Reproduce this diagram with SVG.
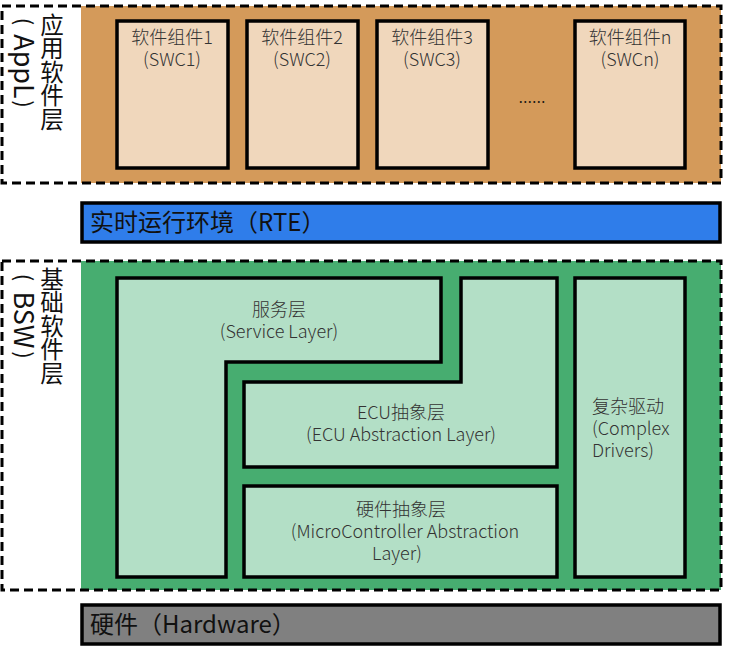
<svg xmlns="http://www.w3.org/2000/svg" width="731" height="651" viewBox="0 0 731 651">
<style>
  .t { font-family: "Noto Sans CJK SC", "Noto Sans", sans-serif; fill: #333; font-size: 18px; font-weight: 300; }
  .big { font-family: "Noto Sans CJK SC", "Noto Sans", sans-serif; fill: #111; font-size: 24px; }
  .vert { font-family: "Noto Sans CJK SC", "Noto Sans", sans-serif; fill: #111; font-size: 23.5px; writing-mode: vertical-rl; }
  .rot { font-family: "Noto Sans CJK SC", "Noto Sans", sans-serif; fill: #111; font-size: 27px; text-anchor: middle; }
  .par { font-family: "Noto Sans CJK SC", "Noto Sans", sans-serif; fill: #111; font-size: 22px; text-anchor: middle; }
  .dash { fill: none; stroke: #000; stroke-width: 3; stroke-dasharray: 9 5; }
  .box { stroke: #000; stroke-width: 3.5; }
  .swc { fill: #F0D7BC; }
  .lg { fill: #B3DFC6; }
  .c { text-anchor: middle; }
</style>
<rect width="731" height="651" fill="#fff"/>

<g id="appl-layer">
  <rect x="81" y="6" width="640" height="177" fill="#D49A5A"/>
  <rect class="dash" x="2" y="6" width="719" height="177"/>
  <text class="vert" x="52" y="13">应用软件层</text>
  <text class="par" transform="translate(16,0) rotate(90)" x="21.5" y="0">(</text>
  <text class="rot" transform="translate(14,0) rotate(90)" x="66.5" y="0">AppL</text>
  <text class="par" transform="translate(16,0) rotate(90)" x="104" y="0">)</text>
</g>

<g id="swc1">
  <rect class="box swc" x="117" y="21" width="111" height="147"/>
  <text class="t c" x="172" y="44">软件组件1</text>
  <text class="t c" x="172" y="66">(SWC1)</text>
</g>
<g id="swc2">
  <rect class="box swc" x="247" y="21" width="111" height="147"/>
  <text class="t c" x="302" y="44">软件组件2</text>
  <text class="t c" x="302" y="66">(SWC2)</text>
</g>
<g id="swc3">
  <rect class="box swc" x="377" y="21" width="111" height="147"/>
  <text class="t c" x="432" y="44">软件组件3</text>
  <text class="t c" x="432" y="66">(SWC3)</text>
</g>
<g id="ellipsis">
  <text class="t c" x="532" y="103" style="fill:#111">......</text>
</g>
<g id="swcn">
  <rect class="box swc" x="575" y="21" width="110" height="147"/>
  <text class="t c" x="630" y="44">软件组件n</text>
  <text class="t c" x="630" y="66">(SWCn)</text>
</g>

<g id="rte">
  <rect class="box" x="82" y="203" width="638" height="39" fill="#2F7DEA"/>
  <text class="big" x="90" y="231">实时运行环境（RTE）</text>
</g>

<g id="bsw-layer">
  <rect x="81" y="261" width="640" height="329" fill="#47AD70"/>
  <rect class="dash" x="2" y="261" width="719" height="329"/>
  <text class="vert" x="52" y="267">基础软件层</text>
  <text class="par" transform="translate(16,0) rotate(90)" x="277.5" y="0">(</text>
  <text class="rot" transform="translate(14,0) rotate(90)" x="320" y="0">BSW</text>
  <text class="par" transform="translate(16,0) rotate(90)" x="355" y="0">)</text>
</g>

<g id="service-layer">
  <polygon class="box lg" points="117,278 441,278 441,362 226,362 226,577 117,577"/>
  <text class="t c" x="279" y="316">服务层</text>
  <text class="t c" x="279" y="338">(Service Layer)</text>
</g>

<g id="ecu-abstraction">
  <polygon class="box lg" points="461,278 557,278 557,467 244,467 244,382 461,382"/>
  <text class="t c" x="401" y="419">ECU抽象层</text>
  <text class="t c" x="401" y="441">(ECU Abstraction Layer)</text>
</g>

<g id="mcal">
  <rect class="box lg" x="244" y="486" width="313" height="91"/>
  <text class="t c" x="401" y="516">硬件抽象层</text>
  <text class="t c" x="405" y="538">(MicroController Abstraction</text>
  <text class="t c" x="397" y="560">Layer)</text>
</g>

<g id="complex-drivers">
  <rect class="box lg" x="575" y="278" width="110" height="299"/>
  <text class="t" x="592" y="413">复杂驱动</text>
  <text class="t" x="592" y="435">(Complex</text>
  <text class="t" x="592" y="457">Drivers)</text>
</g>

<g id="hardware">
  <rect class="box" x="82" y="605" width="638" height="39" fill="#808080"/>
  <text class="big" x="90" y="633">硬件（Hardware）</text>
</g>

<g id="connectors"/>
</svg>
